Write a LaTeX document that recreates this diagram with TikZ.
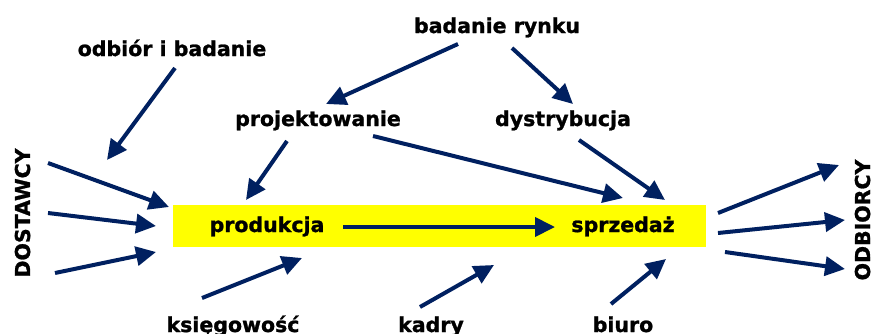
\documentclass[tikz,border=0pt]{standalone}
\usepackage{fontspec}
\setmainfont{DejaVu Sans}
\newfontfamily\lblfont{DejaVu Sans Bold}[FakeBold=1.2]
\usetikzlibrary{arrows.meta}
\definecolor{navy}{RGB}{0,32,96}
\definecolor{band}{RGB}{255,255,0}
\begin{document}
\begin{tikzpicture}[x=1pt,y=-1pt,
  lbl/.style={font=\lblfont\fontsize{20.5}{24}\selectfont, text=black, inner sep=0pt, anchor=base},
  flow/.style={draw=navy, line width=4pt, -{Triangle[length=20pt,width=19pt]}}]
\useasboundingbox (0,0) rectangle (871,333);
% central band
\fill[band] (173,205) rectangle (706,247);
% labels
\node[lbl] (odbior) at (172,56) {odbiór i badanie};
\node[lbl] (rynek) at (497,33) {badanie rynku};
\node[lbl] (projekt) at (318,126) {projektowanie};
\node[lbl] (dystr) at (563,126) {dystrybucja};
\node[lbl] (prod) at (267,232) {produkcja};
\node[lbl] (sprz) at (623,232) {sprzedaż};
\node[lbl] (ksieg) at (233,332) {księgowość};
\node[lbl] (kadry) at (431,332) {kadry};
\node[lbl] (biuro) at (623,332) {biuro};
\node[lbl, rotate=90] (dost) at (30,213) {DOSTAWCY};
\node[lbl, rotate=90] (odb) at (870,220) {ODBIORCY};
% connector end points
\coordinate (d1s) at (48,163);  \coordinate (d1e) at (169,207);
\coordinate (d2s) at (48,213);  \coordinate (d2e) at (156,226);
\coordinate (d3s) at (55,273);  \coordinate (d3e) at (156,252);
\coordinate (obs) at (175,68);  \coordinate (obe) at (107,160);
\coordinate (o1s) at (718,213); \coordinate (o1e) at (839,165);
\coordinate (o2s) at (718,233); \coordinate (o2e) at (845,220);
\coordinate (o3s) at (725,252); \coordinate (o3e) at (845,269);
\coordinate (r1s) at (458,44);  \coordinate (r1e) at (326,104);
\coordinate (r2s) at (512,48);  \coordinate (r2e) at (573,104);
\coordinate (p1s) at (287,141); \coordinate (p1e) at (246,200);
\coordinate (p2s) at (373,136); \coordinate (p2e) at (623,198);
\coordinate (dss) at (579,140); \coordinate (dse) at (665,200);
\coordinate (kss) at (202,298); \coordinate (kse) at (302,258);
\coordinate (kds) at (420,307); \coordinate (kde) at (494,265);
\coordinate (bis) at (611,304); \coordinate (bie) at (666,259);
\coordinate (pss) at (343,227); \coordinate (pse) at (555,227);
% connectors
\foreach \a/\b in {d1s/d1e,d2s/d2e,d3s/d3e,obs/obe,o1s/o1e,o2s/o2e,o3s/o3e,
  r1s/r1e,r2s/r2e,p1s/p1e,p2s/p2e,dss/dse,kss/kse,kds/kde,bis/bie,pss/pse}
  \draw[flow] (\a) -- (\b);
\end{tikzpicture}
\end{document}
